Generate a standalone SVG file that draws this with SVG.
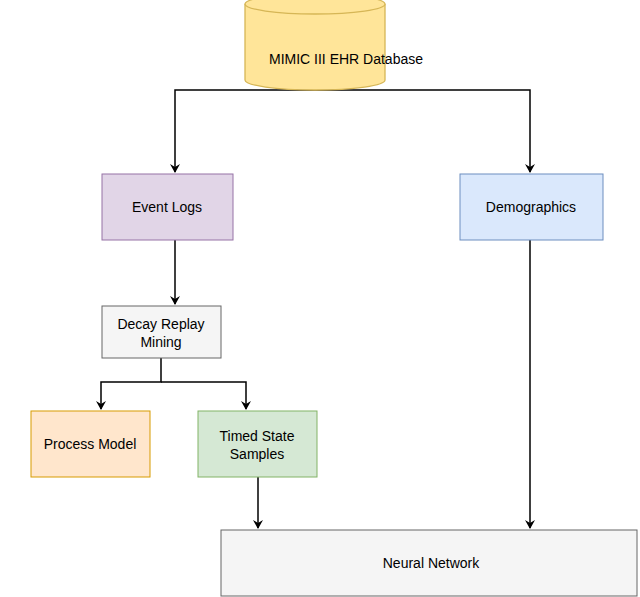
<svg xmlns="http://www.w3.org/2000/svg" width="640" height="597" viewBox="0 0 640 597">
<style>
text{font-family:"Liberation Sans",Arial,sans-serif;font-size:14px;fill:#000;text-anchor:middle}
.c{fill:none;stroke:#000;stroke-width:1.5}
</style>
<defs><marker id="a" markerWidth="10" markerHeight="10" refX="8" refY="5" orient="auto" markerUnits="userSpaceOnUse"><path d="M0,0 L9,5 L0,10 L3,5 Z" fill="#000"/></marker></defs>
<rect width="640" height="597" fill="#fff"/>
<g id="connectors">
<path class="c" d="M315,90 H175 V172" marker-end="url(#a)"/>
<path class="c" d="M315,90 H530 V172" marker-end="url(#a)"/>
<path class="c" d="M175,240 V304" marker-end="url(#a)"/>
<path class="c" d="M161,358 V382 H101 V409" marker-end="url(#a)"/>
<path class="c" d="M161,382 H246 V409" marker-end="url(#a)"/>
<path class="c" d="M258,477 V528" marker-end="url(#a)"/>
<path class="c" d="M530,240 V528" marker-end="url(#a)"/>
</g>
<g id="db">
<path d="M245,4 V80 A70,10 0 0 0 385,80 V4" fill="#ffe599" stroke="#d6b656" stroke-width="1.3"/>
<ellipse cx="315" cy="4" rx="70" ry="10" fill="#ffe599" stroke="#d6b656" stroke-width="1.3"/>
<text x="346" y="64">MIMIC III EHR Database</text>
</g>
<g id="eventlogs"><rect x="102" y="174" width="131" height="66" fill="#e1d5e7" stroke="#9673a6"/><text x="167" y="212">Event Logs</text></g>
<g id="demographics"><rect x="460" y="174" width="143" height="66" fill="#dae8fc" stroke="#6c8ebf"/><text x="531" y="212">Demographics</text></g>
<g id="decay"><rect x="102" y="306" width="119" height="52" fill="#f5f5f5" stroke="#666"/><text x="161" y="329">Decay Replay</text><text x="161" y="347">Mining</text></g>
<g id="process"><rect x="31" y="411" width="119" height="66" fill="#ffe6cc" stroke="#d79b00"/><text x="90" y="449">Process Model</text></g>
<g id="timed"><rect x="198" y="411" width="119" height="66" fill="#d5e8d4" stroke="#82b366"/><text x="257" y="441">Timed State</text><text x="257" y="459">Samples</text></g>
<g id="nn"><rect x="221" y="530" width="416" height="66" fill="#f5f5f5" stroke="#666"/><text x="431" y="568">Neural Network</text></g>
</svg>
